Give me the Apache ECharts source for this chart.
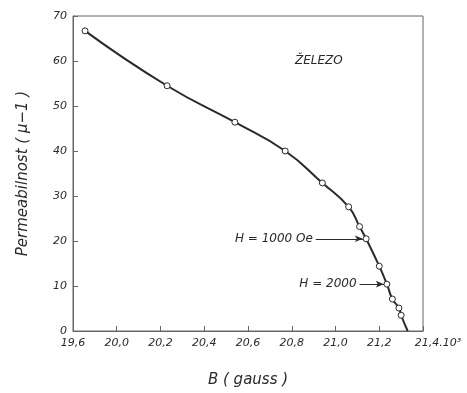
<!DOCTYPE html>
<html>
<head>
<meta charset="utf-8">
<script src="https://cdn.jsdelivr.net/npm/echarts@6/dist/echarts.min.js"></script>
<style>
  html, body {margin: 0; padding: 0; background: #fff;}
  #main {width: 467px; height: 393px;}
</style>
</head>
<body>
<div id="main"></div>
<script>
// B values (the first tick is labelled 19,6 in the original, axis is linear from it)
const bValues = [19.855, 20.23, 20.54, 20.77, 20.94, 21.06, 21.11, 21.14, 21.20, 21.235, 21.26, 21.29, 21.30, 21.33];
const muValues = [66.7, 54.5, 46.4, 40.0, 32.9, 27.6, 23.2, 20.5, 14.4, 10.4, 7.1, 5.1, 3.5, 0];
const xTickLabels = ['19,6', '20,0', '20,2', '20,4', '20,6', '20,8', '21,0', '21,2', '21,4.10³'];
const annotations = [
  {text: 'H = 1000 Oe', from: 20.91, to: 21.125, mu: 20.5},
  {text: 'H = 2000', from: 21.11, to: 21.221, mu: 10.4}
];

const font = '"DejaVu Sans", sans-serif';
const ink = '#2a2a2a';

const points = bValues.map((b, i) => ({
  value: [b, muValues[i]],
  symbol: i === bValues.length - 1 ? 'none' : 'circle'
}));

const chart = echarts.init(document.getElementById('main'));
chart.setOption({
  animation: false,
  backgroundColor: '#fff',
  title: {
    text: 'ŽELEZO',
    left: 290,
    top: 50,
    textStyle: {fontFamily: font, fontSize: 12, fontStyle: 'italic', fontWeight: 'normal', color: ink}
  },
  grid: {
    left: 73, right: 44, top: 16, bottom: 60,
    show: true, borderColor: '#666', borderWidth: 1
  },
  xAxis: {
    type: 'value',
    min: 19.8, max: 21.4, interval: 0.2,
    name: 'B ( gauss )',
    nameLocation: 'middle',
    nameGap: 42,
    nameTextStyle: {fontFamily: font, fontSize: 15, fontStyle: 'italic', color: ink},
    axisLine: {lineStyle: {color: '#666'}},
    axisTick: {inside: true, length: 5, lineStyle: {color: '#666'}},
    splitLine: {show: false},
    axisLabel: {
      fontFamily: font, fontSize: 11, fontStyle: 'italic', color: ink, margin: 7,
      formatter: (v, i) => i === xTickLabels.length - 1 ? '{p|}' + xTickLabels[i] : xTickLabels[i],
      rich: {p: {width: 30}}
    }
  },
  yAxis: {
    type: 'value',
    min: 0, max: 70, interval: 10,
    name: 'Permeabilnost ( μ−1 )',
    nameLocation: 'middle',
    nameGap: 42,
    nameTextStyle: {fontFamily: font, fontSize: 15, fontStyle: 'italic', color: ink},
    axisLine: {show: true, lineStyle: {color: '#666'}},
    axisTick: {show: true, inside: true, length: 5, lineStyle: {color: '#666'}},
    splitLine: {show: false},
    axisLabel: {fontFamily: font, fontSize: 11, fontStyle: 'italic', color: ink, margin: 6}
  },
  series: [{
    type: 'line',
    data: points,
    smooth: 0.5,
    symbolSize: 6,
    showAllSymbol: true,
    lineStyle: {color: ink, width: 2},
    itemStyle: {color: '#fff', borderColor: ink, borderWidth: 1},
    markLine: {
      silent: true,
      symbol: ['none', 'arrow'],
      symbolSize: [5, 8],
      lineStyle: {color: ink, width: 1, type: 'solid'},
      label: {
        position: 'start', distance: 3,
        fontFamily: font, fontSize: 12, fontStyle: 'italic', color: ink,
        formatter: p => p.name
      },
      data: annotations.map(a => [
        {name: a.text, coord: [a.from, a.mu]},
        {coord: [a.to, a.mu]}
      ])
    }
  }]
});
</script>
</body>
</html>
